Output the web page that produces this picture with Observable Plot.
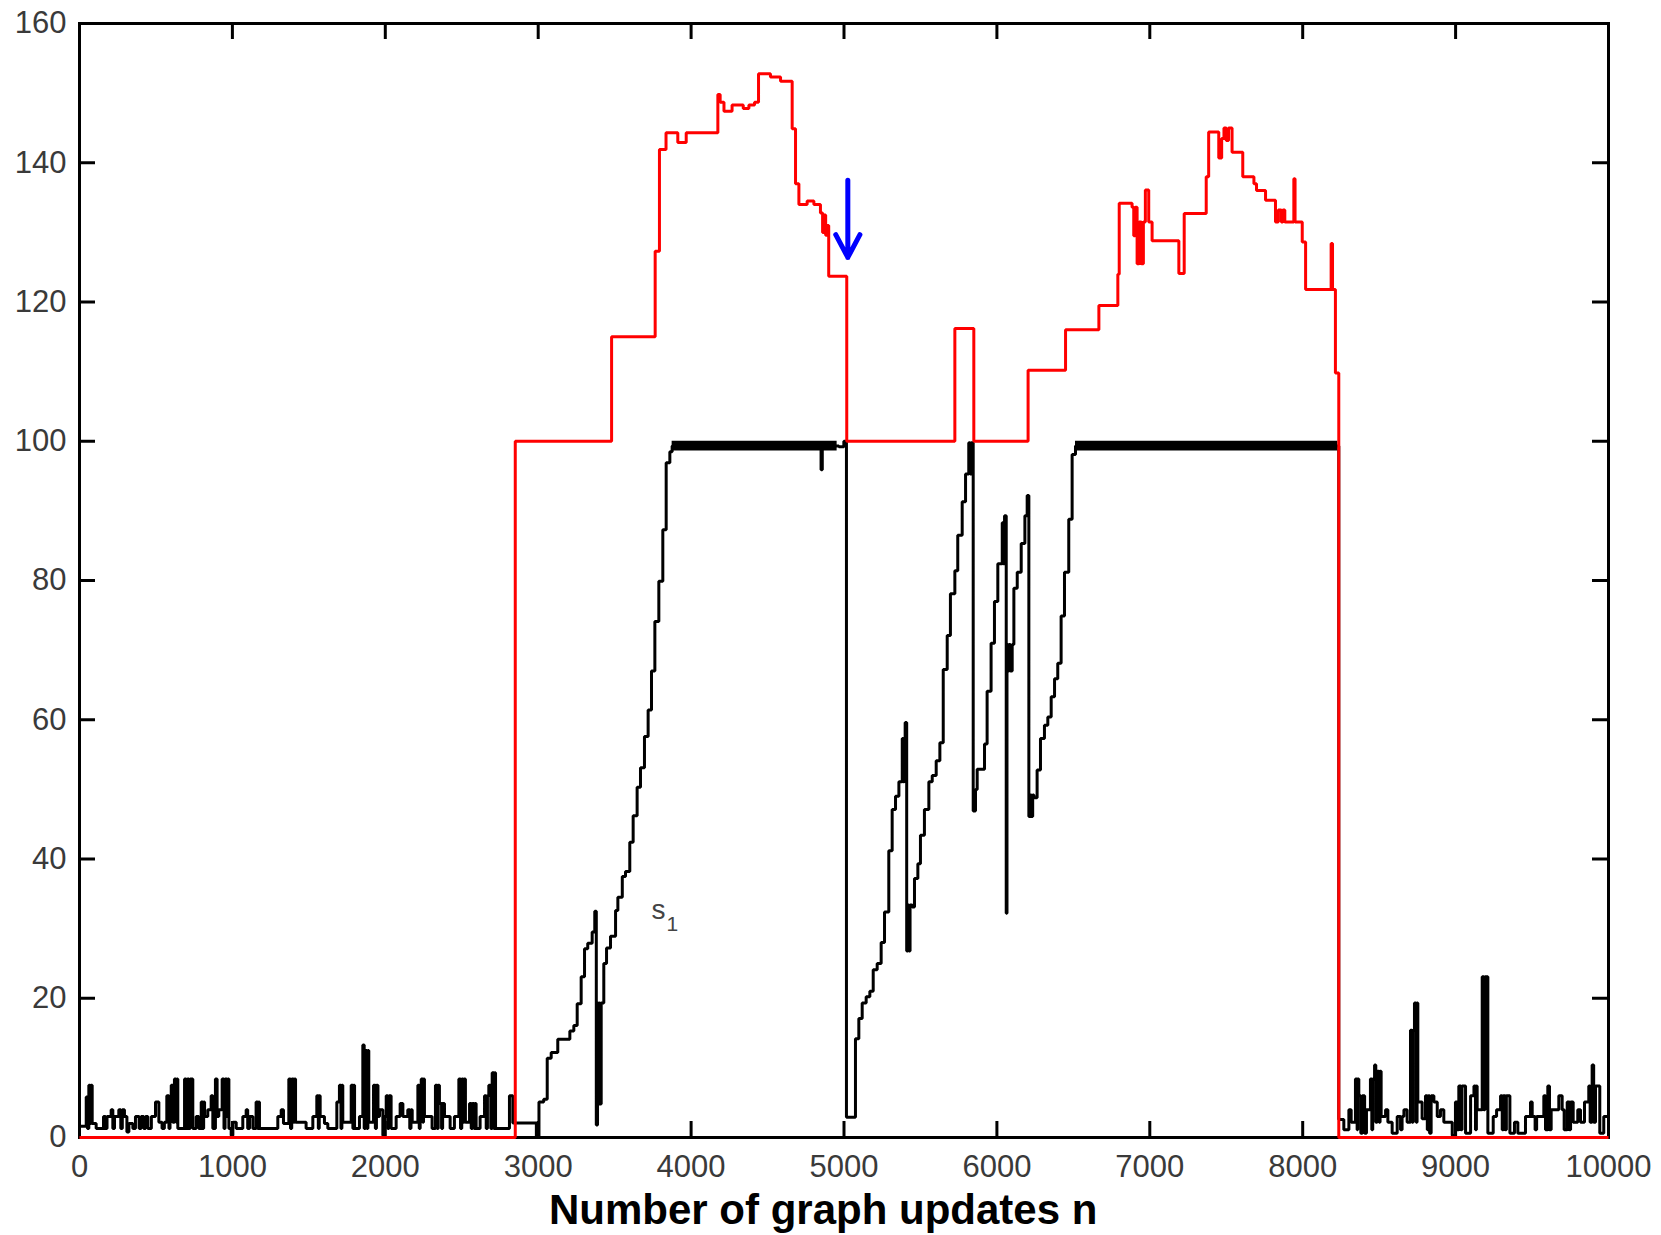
<!DOCTYPE html>
<html>
<head>
<meta charset="utf-8">
<script src="https://cdn.jsdelivr.net/npm/d3@7"></script>
<script src="https://cdn.jsdelivr.net/npm/@observablehq/plot@0.6"></script>
<style>
  html, body { margin: 0; padding: 0; background: #fff; }
  #wrap { width: 1661px; height: 1235px; position: relative; overflow: hidden; }
  #xtitle { height: 50px; line-height: 50px; margin-left: 549px; white-space: nowrap;
            font-family: "Liberation Sans", Arial, sans-serif; font-weight: bold; font-size: 42px; color: #000; }
</style>
</head>
<body>
<div id="wrap"><div id="chart"></div><div id="xtitle">Number of graph updates n</div></div>
<script>
// ---- tick values ----
const xTicks = [0, 1000, 2000, 3000, 4000, 5000, 6000, 7000, 8000, 9000, 10000];
const yTicks = [0, 20, 40, 60, 80, 100, 120, 140, 160];

// ---- black series s1 : [step start n, value] ----
const blackNoiseLeft = [
  [0,1.6],[44,5.8],[52,1.3],[61,7.5],[70,2.0],[76,7.5],[83,2.0],[109,1.3],[157,3.0],[170,1.3],[180,3.0],[207,4.0],
  [218,1.3],[229,3.0],[257,4.0],[270,1.3],[280,4.0],[294,3.0],[310,0.8],[323,2.0],[349,1.3],[366,3.0],[390,1.3],
  [403,3.0],[420,1.3],[432,3.0],[447,1.3],[470,3.0],[497,5.1],[519,2.2],[540,1.3],[555,2.2],[571,6.0],[585,1.3],
  [592,6.0],[600,7.5],[610,2.2],[621,8.4],[632,2.2],[638,8.4],[643,1.3],[687,8.4],[698,1.3],[706,8.4],[716,1.3],
  [724,8.4],[741,1.3],[763,3.0],[780,1.3],[796,5.1],[806,1.3],[812,5.1],[818,3.0],[839,4.0],[861,6.0],[872,1.3],
  [889,8.4],[900,3.0],[911,4.0],[933,8.4],[945,1.3],[952,8.4],[964,3.0],[970,8.4],[977,1.3],[992,0.3],[1003,2.2],
  [1025,1.3],[1068,3.0],[1090,4.0],[1100,1.3],[1112,3.0],[1134,1.3],[1155,5.1],[1165,1.3],[1171,5.1],[1177,1.3],
  [1297,3.0],[1319,4.0],[1334,2.0],[1369,8.4],[1380,1.3],[1388,8.4],[1400,2.2],[1406,8.4],[1413,2.2],[1482,1.3],
  [1526,3.0],[1552,6.0],[1562,1.3],[1568,6.0],[1574,3.0],[1602,2.0],[1624,1.3],[1683,5.1],[1700,7.5],[1710,1.3],
  [1716,7.5],[1722,2.2],[1777,7.5],[1788,1.3],[1793,7.5],[1799,1.3],[1831,3.0],[1853,13.3],[1862,1.3],[1870,12.5],
  [1880,1.3],[1886,12.5],[1892,2.2],[1923,7.5],[1935,1.3],[1942,7.5],[1952,3.0],[1962,4.0],[1984,0.3],[1995,3.0],
  [2006,6.0],[2016,1.3],[2024,6.0],[2038,1.3],[2071,3.0],[2097,4.9],[2115,3.0],[2147,4.0],[2160,1.3],[2168,4.0],
  [2176,2.2],[2213,7.5],[2222,1.3],[2228,7.5],[2235,8.4],[2245,2.2],[2250,8.4],[2256,3.0],[2306,1.3],[2328,7.5],
  [2340,1.3],[2346,7.5],[2354,4.9],[2368,1.3],[2375,4.9],[2387,3.0],[2424,1.3],[2452,3.0],[2481,8.4],[2492,1.3],
  [2500,8.4],[2510,2.2],[2516,8.4],[2524,2.2],[2551,4.9],[2562,1.3],[2570,4.9],[2582,1.3],[2588,4.9],[2594,1.3],
  [2620,3.0],[2649,6.0],[2660,1.3],[2668,6.0],[2677,7.5],[2690,1.3],[2699,9.3],[2710,1.3],[2716,9.3],[2721,1.3],
  [2812,6.0],[2834,2.1]
];
const blackRise1 = [
  [2988,0.2],[3005,5.1],[3036,5.5],[3059,11.4],[3085,12.2],[3128,14.1],[3207,15.3],[3233,16.1],[3255,19.2],
  [3281,23.1],[3303,27.1],[3324,27.9],[3353,29.5],[3370,32.5],[3380,1.8],[3388,19.3],[3394,4.8],[3400,19.3],
  [3405,4.8],[3412,19.3],[3429,25.0],[3447,27.2],[3473,28.9],[3506,32.6],[3521,34.5],[3550,37.5],[3571,38.2],
  [3599,42.4],[3621,46.2],[3647,50.3],[3669,53.1],[3695,57.6],[3719,61.4],[3741,67.0],[3763,74.1],[3789,79.9],
  [3815,87.3],[3837,96.9],[3861,98.5],[3876,99.3],[4850,95.9],[4858,99.3],[4966,99.2],[4999,100]
];
const blackRise2 = [
  [5016,2.9],[5075,14.2],[5097,17.1],[5119,19.3],[5145,20.2],[5169,21.0],[5191,24.1],[5217,25.0],[5243,28.0],
  [5265,32.4],[5293,41.2],[5315,47.1],[5337,49.0],[5359,51.1],[5381,57.3],[5388,51.1],[5394,57.3],[5400,59.6],
  [5410,26.8],[5418,33.4],[5425,26.8],[5432,33.4],[5446,33.1],[5461,37.2],[5483,39.3],[5500,43.4],[5526,47.1],
  [5555,51.1],[5577,52.0],[5603,54.1],[5627,56.7],[5649,67.2],[5675,72.1],[5696,78.1],[5725,81.4],[5744,86.5],
  [5773,91.3],[5795,95.3],[5816,99.8],[5825,95.3],[5832,99.8],[5845,46.9],[5860,50.0],[5871,52.9],[5919,56.5],
  [5936,64.1],[5962,71.0],[5984,77.0],[6006,82.4],[6035,88.3],[6042,82.4],[6050,89.3],[6061,32.2],[6066,70.8],
  [6072,67.0],[6080,70.8],[6088,67.0],[6100,70.8],[6111,78.9],[6133,81.2],[6159,85.3],[6183,89.3],[6198,92.2],
  [6209,46.1],[6218,49.2],[6226,46.1],[6234,49.2],[6242,48.8],[6263,52.8],[6285,57.3],[6311,59.2],[6333,60.4],
  [6355,63.3],[6377,65.9],[6398,68.1],[6420,74.9],[6442,81.2],[6470,88.8],[6492,98.1],[6514,99.3]
];
const blackNoiseRight = [
  [8236,2.6],[8269,1.1],[8302,4.0],[8317,2.2],[8345,8.4],[8356,1.1],[8360,8.4],[8367,6.0],[8380,0.6],[8390,6.0],
  [8405,0.6],[8417,4.0],[8443,8.4],[8452,1.1],[8458,8.4],[8470,10.4],[8478,2.2],[8487,9.5],[8500,2.2],[8506,9.5],
  [8513,3.0],[8542,4.0],[8557,2.2],[8585,0.6],[8618,3.0],[8640,1.1],[8650,3.0],[8662,4.0],[8683,2.2],[8705,15.4],
  [8715,2.2],[8722,15.4],[8731,19.3],[8742,2.2],[8748,19.3],[8753,5.1],[8781,2.7],[8803,6.0],[8815,1.1],[8822,6.0],
  [8830,0.6],[8840,6.0],[8858,5.1],[8880,3.0],[8901,4.0],[8923,2.2],[8978,0.3],[8999,5.1],[9010,1.1],[9021,7.4],
  [9035,1.1],[9042,7.4],[9065,0.6],[9098,6.0],[9120,7.4],[9130,1.1],[9136,7.4],[9141,4.0],[9174,23.1],[9185,4.0],
  [9192,23.1],[9211,0.6],[9246,3.0],[9268,4.0],[9294,6.0],[9305,1.1],[9312,6.0],[9325,1.1],[9332,6.0],[9355,0.6],
  [9385,2.2],[9407,0.6],[9457,3.0],[9490,5.1],[9501,3.0],[9520,1.1],[9530,3.0],[9577,6.0],[9588,1.1],[9603,7.4],
  [9614,1.1],[9625,4.0],[9675,6.0],[9697,4.0],[9710,1.1],[9730,5.1],[9745,1.1],[9752,5.1],[9769,2.2],[9799,4.0],
  [9817,2.2],[9843,5.1],[9871,7.4],[9880,2.2],[9893,10.4],[9903,2.2],[9915,7.4],[9943,0.6],[9969,3.0],[10000,3.0]
];
// saturated band where s1 flickers between ~98.6 and 100
const bandStart = [3876, 6514];
const bandEnd   = [4955, 8230];
const bandLo    = [98.6, 98.6];
const bandHi    = [100, 100];

// ---- red series : [step start n, value] ----
const redSteps = [
  [0,0],[2850,100],[3480,115],[3765,127.3],[3793,141.9],[3836,144.3],[3913,142.9],[3968,144.3],[4175,149.8],
  [4190,148.7],[4215,147.4],[4268,148.3],[4341,147.8],[4378,148.3],[4415,148.7],[4441,152.8],[4519,152.3],
  [4585,151.7],[4661,144.9],[4683,137.0],[4705,134.0],[4759,134.5],[4803,134.0],[4846,132.8],[4860,130.0],
  [4870,132.5],[4880,129.6],[4890,131.0],[4900,123.7],[5018,100],[5725,116.2],[5849,100],[6204,110.2],
  [6449,116.0],[6667,119.5],[6791,124.0],[6800,134.2],[6884,133.6],[6895,129.5],[6905,133.6],[6917,125.5],
  [6930,131.5],[6945,125.5],[6958,131.5],[6971,136.1],[6993,131.5],[7015,128.8],[7190,124.1],[7225,132.7],
  [7369,138.0],[7385,144.4],[7451,140.7],[7470,143.5],[7485,145.0],[7500,143.2],[7515,145.0],[7538,141.5],
  [7608,138.0],[7681,137.0],[7698,136.0],[7757,134.6],[7822,131.5],[7840,133.2],[7860,131.5],[7870,133.2],
  [7883,131.5],[7942,137.7],[7950,131.5],[7997,128.6],[8019,121.8],[8186,128.4],[8195,121.8],[8214,109.8],
  [8236,0],[10000,0]
];

// ---- annotations ----
const arrowX = [5025], arrowFrom = [137.5], arrowTo = [126.4];
const labelX = [3741], labelY = [32.6], labelMain = ["s"], labelSub = ["1"];

const blackSteps = blackNoiseLeft.concat(blackRise1, blackRise2, blackNoiseRight);

const W = 1661, H = 1185, mL = 79, mR = 53, mT = 23, mB = 48;
const innerW = W - mL - mR, innerH = H - mT - mB, tickLen = 16;
const fmt = d => String(d);

const chart = Plot.plot({
  width: W, height: H,
  marginLeft: mL, marginRight: mR, marginTop: mT, marginBottom: mB,
  style: {fontFamily: "'Liberation Sans', Arial, sans-serif", background: "white", color: "#3a3a3a", overflow: "visible"},
  x: {domain: [0, 10000]},
  y: {domain: [0, 160]},
  marks: [
    Plot.axisX(xTicks, {anchor: "bottom", tickSize: 0, tickPadding: 17, fontSize: 31, label: null, tickFormat: fmt, fill: "#3a3a3a"}),
    Plot.axisY(yTicks, {anchor: "left", tickSize: 0, tickPadding: 13, fontSize: 31, label: null, tickFormat: fmt, fill: "#3a3a3a"}),
    Plot.frame({stroke: "black", strokeWidth: 3}),
    Plot.tickX(xTicks, {x: d => d, stroke: "black", strokeWidth: 3, insetTop: innerH - tickLen}),
    Plot.tickX(xTicks, {x: d => d, stroke: "black", strokeWidth: 3, insetBottom: innerH - tickLen}),
    Plot.tickY(yTicks, {y: d => d, stroke: "black", strokeWidth: 3, insetRight: innerW - tickLen}),
    Plot.tickY(yTicks, {y: d => d, stroke: "black", strokeWidth: 3, insetLeft: innerW - tickLen}),
    Plot.rect(bandStart.map((_, i) => i), {x1: i => bandStart[i], x2: i => bandEnd[i], y1: i => bandLo[i], y2: i => bandHi[i], fill: "black"}),
    Plot.line(blackSteps, {x: d => d[0], y: d => d[1], curve: "step-after", stroke: "black", strokeWidth: 3, strokeLinejoin: "miter", strokeLinecap: "butt"}),
    Plot.line(redSteps, {x: d => d[0], y: d => d[1], curve: "step-after", stroke: "#ff0000", strokeWidth: 3, strokeLinejoin: "miter", strokeLinecap: "butt"}),
    Plot.arrow(arrowX.map((_, i) => i), {x1: i => arrowX[i], x2: i => arrowX[i], y1: i => arrowFrom[i], y2: i => arrowTo[i], stroke: "#0000ff", strokeWidth: 5, headLength: 8, headAngle: 56}),
    Plot.text(labelX.map((_, i) => i), {x: i => labelX[i], y: i => labelY[i], text: i => labelMain[i], textAnchor: "start", fontSize: 28, fill: "#444"}),
    Plot.text(labelX.map((_, i) => i), {x: i => labelX[i], y: i => labelY[i], text: i => labelSub[i], textAnchor: "start", fontSize: 21, dx: 15, dy: 14, fill: "#444"})
  ]
});
document.getElementById("chart").appendChild(chart);
</script>
</body>
</html>
